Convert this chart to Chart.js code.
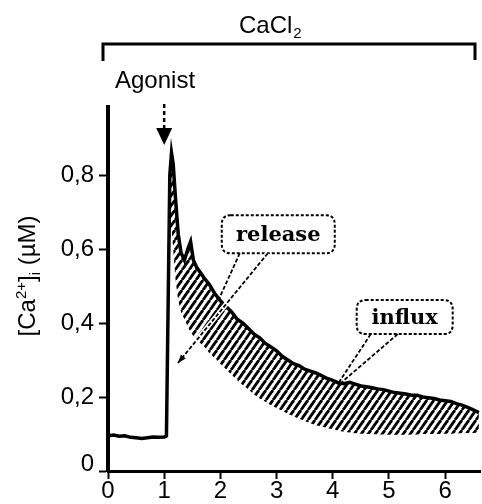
<!DOCTYPE html>
<html>
<head>
<meta charset="utf-8">
<script src="https://cdn.jsdelivr.net/npm/chart.js@4.4.1/dist/chart.umd.min.js"></script>
<style>
  html, body { margin: 0; padding: 0; background: #fff; }
  #wrap { width: 482px; height: 504px; }
</style>
</head>
<body>
<div id="wrap"><canvas id="chart" width="482" height="504"></canvas></div>
<script>
// time in min, [Ca2+]i in µM
const time = [0, 0.1, 0.2, 0.3, 0.4, 0.5, 0.6, 0.7, 0.8, 0.9, 1.0, 1.04,
	1.07, 1.1, 1.13, 1.16, 1.2, 1.25, 1.3, 1.36, 1.42, 1.47, 1.52, 1.58, 1.65, 1.72, 1.8,
	1.9, 2.0, 2.1, 2.2, 2.3, 2.4, 2.5, 2.6, 2.7, 2.8, 2.9, 3.0, 3.1, 3.2, 3.3, 3.4, 3.5,
	3.6, 3.7, 3.8, 3.9, 4.0, 4.1, 4.2, 4.3, 4.4, 4.5, 4.6, 4.7, 4.8, 4.9, 5.0, 5.1, 5.2,
	5.3, 5.4, 5.5, 5.6, 5.7, 5.8, 5.9, 6.0, 6.1, 6.2, 6.3, 6.4, 6.5, 6.6];

const signal = [0.095, 0.097, 0.094, 0.095, 0.091, 0.090, 0.088, 0.090, 0.092, 0.091, 0.092, 0.095,
	0.45, 0.80, 0.86, 0.83, 0.74, 0.64, 0.59, 0.57, 0.60, 0.62, 0.57, 0.55, 0.535, 0.52, 0.505,
	0.48, 0.46, 0.445, 0.43, 0.41, 0.40, 0.385, 0.37, 0.36, 0.345, 0.335, 0.325, 0.31, 0.30, 0.29, 0.285, 0.275,
	0.27, 0.265, 0.258, 0.25, 0.245, 0.238, 0.236, 0.24, 0.235, 0.23, 0.228, 0.225, 0.222, 0.22, 0.216, 0.212, 0.21,
	0.208, 0.205, 0.205, 0.20, 0.198, 0.196, 0.192, 0.19, 0.188, 0.182, 0.178, 0.172, 0.165, 0.158];

// lower edge of the hatched area (null before the agonist response)
const releaseFloor = [null, null, null, null, null, null, null, null, null, null, null, null,
	0.45, 0.62, 0.66, 0.60, 0.52, 0.46, 0.43, 0.41, 0.39, 0.375, 0.365, 0.355, 0.345, 0.335, 0.32,
	0.305, 0.29, 0.275, 0.26, 0.245, 0.232, 0.22, 0.207, 0.196, 0.187, 0.178, 0.17, 0.162, 0.155, 0.148, 0.141, 0.135,
	0.129, 0.124, 0.12, 0.116, 0.112, 0.109, 0.106, 0.104, 0.102, 0.101, 0.10, 0.10, 0.099, 0.099, 0.098, 0.098, 0.098,
	0.098, 0.099, 0.099, 0.10, 0.10, 0.10, 0.10, 0.101, 0.101, 0.102, 0.102, 0.103, 0.103, 0.104];

const xTicks = [0, 1, 2, 3, 4, 5, 6];
const yTicks = [0, 0.2, 0.4, 0.6, 0.8];

const FONT = "'Liberation Sans', Arial, sans-serif";

// diagonal hatch
function makeHatch() {
	const w = 7, h = 10;
	const c = document.createElement('canvas');
	c.width = w; c.height = h;
	const g = c.getContext('2d');
	g.strokeStyle = '#000';
	g.lineWidth = 2.8;
	for (let k = -1; k <= 1; k++) {
		g.beginPath();
		g.moveTo(k * w, h);
		g.lineTo(k * w + w, 0);
		g.stroke();
	}
	return document.getElementById('chart').getContext('2d').createPattern(c, 'repeat');
}

const signalPts = time.map((t, i) => ({ x: t, y: signal[i] }));
const hatchTop = time.map((t, i) => releaseFloor[i] == null ? null : { x: t, y: signal[i] }).filter(Boolean);
const hatchBottom = time.map((t, i) => releaseFloor[i] == null ? null : { x: t, y: releaseFloor[i] }).filter(Boolean);

function roundRect(ctx, x, y, w, h, r) {
	ctx.beginPath();
	ctx.moveTo(x + r, y);
	ctx.lineTo(x + w - r, y);
	ctx.quadraticCurveTo(x + w, y, x + w, y + r);
	ctx.lineTo(x + w, y + h - r);
	ctx.quadraticCurveTo(x + w, y + h, x + w - r, y + h);
	ctx.lineTo(x + r, y + h);
	ctx.quadraticCurveTo(x, y + h, x, y + h - r);
	ctx.lineTo(x, y + r);
	ctx.quadraticCurveTo(x, y, x + r, y);
	ctx.closePath();
}

const decorations = {
	id: 'decorations',
	afterDraw(chart) {
		const ctx = chart.ctx;
		const xs = chart.scales.x, ys = chart.scales.y;
		const P = (x, v) => [xs.getPixelForValue(x), ys.getPixelForValue(v)];
		ctx.save();
		ctx.fillStyle = '#000';
		ctx.strokeStyle = '#000';

		// "0" of the y axis sits a little above its tick
		ctx.font = '24px ' + FONT;
		ctx.textAlign = 'right';
		ctx.textBaseline = 'middle';
		ctx.fillText('0', ys.right - 14, ys.getPixelForValue(0) - 7);

		// CaCl2 bracket
		ctx.lineWidth = 3;
		ctx.beginPath();
		ctx.moveTo(103, 61); ctx.lineTo(103, 44); ctx.lineTo(475, 44); ctx.lineTo(475, 60);
		ctx.stroke();
		ctx.textBaseline = 'alphabetic';
		ctx.textAlign = 'left';
		ctx.font = '24px ' + FONT;
		ctx.fillText('CaCl', 239, 33);
		const cw = ctx.measureText('CaCl').width;
		ctx.font = '15px ' + FONT;
		ctx.fillText('2', 239 + cw + 1, 38);

		// Agonist
		ctx.font = '24px ' + FONT;
		ctx.fillText('Agonist', 115, 88);
		const ax = xs.getPixelForValue(1.0);
		ctx.lineWidth = 2.5;
		ctx.setLineDash([4, 3]);
		ctx.beginPath(); ctx.moveTo(ax, 104); ctx.lineTo(ax, 129); ctx.stroke();
		ctx.setLineDash([]);
		ctx.beginPath();
		ctx.moveTo(ax - 8, 128); ctx.lineTo(ax + 8, 128); ctx.lineTo(ax, 145); ctx.closePath();
		ctx.fill();

		// y axis title
		ctx.save();
		ctx.translate(35, 276);
		ctx.rotate(-Math.PI / 2);
		const parts = [['[Ca', 24, 0], ['2+', 15, -9], [']', 24, 0], ['i', 15, 5], [' (µM)', 24, 0]];
		let total = 0;
		parts.forEach(p => { ctx.font = p[1] + 'px ' + FONT; total += ctx.measureText(p[0]).width; });
		let cx = -total / 2;
		parts.forEach(p => {
			ctx.font = p[1] + 'px ' + FONT;
			ctx.fillText(p[0], cx, p[2]);
			cx += ctx.measureText(p[0]).width;
		});
		ctx.restore();

		// callouts
		function callout(label, cxv, cyv, w, h, tails) {
			const [bx, by] = P(cxv, cyv);
			const left = bx - w / 2, top = by - h / 2;
			ctx.fillStyle = '#fff';
			roundRect(ctx, left, top, w, h, 9);
			ctx.fill();
			ctx.fillStyle = '#000';
			ctx.lineWidth = 2;
			ctx.setLineDash([3, 2]);
			roundRect(ctx, left, top, w, h, 9);
			ctx.stroke();
			ctx.setLineDash([]);
			ctx.font = "bold 21px 'DejaVu Serif', serif";
			ctx.textAlign = 'center';
			ctx.textBaseline = 'middle';
			ctx.fillText(label, bx, by + 1);
			tails.forEach(t => {
				const sx = left + t.dx, sy = top + h;
				const [ex, ey] = P(t.x, t.v);
				if (t.halo) {
					ctx.strokeStyle = '#fff';
					ctx.lineWidth = 5;
					ctx.beginPath(); ctx.moveTo(sx, sy); ctx.lineTo(ex, ey); ctx.stroke();
					ctx.strokeStyle = '#000';
				}
				ctx.lineWidth = 1.8;
				ctx.setLineDash([4, 2]);
				ctx.beginPath(); ctx.moveTo(sx, sy); ctx.lineTo(ex, ey); ctx.stroke();
				ctx.setLineDash([]);
				if (t.arrow) {
					const a = Math.atan2(ey - sy, ex - sx);
					ctx.beginPath();
					ctx.moveTo(ex, ey);
					ctx.lineTo(ex - 9 * Math.cos(a - 0.35), ey - 9 * Math.sin(a - 0.35));
					ctx.lineTo(ex - 9 * Math.cos(a + 0.35), ey - 9 * Math.sin(a + 0.35));
					ctx.closePath();
					ctx.fill();
				}
			});
		}
		callout('release', 3.03, 0.64, 113, 38, [
			{ dx: 18, x: 1.975, v: 0.465 },
			{ dx: 46, x: 1.245, v: 0.292, halo: true, arrow: true }
		]);
		callout('influx', 5.28, 0.416, 96, 34, [
			{ dx: 14, x: 4.11, v: 0.24 },
			{ dx: 41, x: 4.16, v: 0.24 }
		]);
		ctx.restore();
	}
};

const chart = new Chart(document.getElementById('chart'), {
	type: 'line',
	data: {
		datasets: [
			{
				label: 'signal',
				data: signalPts,
				borderColor: '#000',
				borderWidth: 3.5,
				pointRadius: 0,
				tension: 0,
				fill: false,
			},
			{
				label: 'hatch',
				data: hatchTop,
				borderWidth: 0,
				borderColor: 'rgba(0,0,0,0)',
				pointRadius: 0,
				backgroundColor: makeHatch(),
				fill: 2,
			},
			{
				label: 'floor',
				data: hatchBottom,
				borderWidth: 0,
				borderColor: 'rgba(0,0,0,0)',
				pointRadius: 0,
				fill: false,
			},
		],
	},
	options: {
		responsive: false,
		animation: false,
		devicePixelRatio: 1,
		layout: { padding: { top: 107, right: 2, left: 0, bottom: 0 } },
		plugins: { legend: { display: false }, tooltip: { enabled: false } },
		scales: {
			x: {
				type: 'linear',
				min: 0,
				max: 6.62,
				afterFit: s => { s.height = 33; },
				afterBuildTicks: s => { s.ticks = xTicks.map(v => ({ value: v })); },
				ticks: { color: '#000', font: { family: FONT, size: 24 }, padding: -2, maxRotation: 0 },
				grid: { drawOnChartArea: false, tickLength: 8, tickWidth: 2, color: '#000' },
				border: { color: '#000', width: 3 },
			},
			y: {
				type: 'linear',
				min: 0,
				max: 0.984,
				afterFit: s => { s.width = 108; },
				afterBuildTicks: s => { s.ticks = yTicks.map(v => ({ value: v })); },
				ticks: {
					color: '#000',
					font: { family: FONT, size: 24 },
					padding: 5,
					callback: v => v === 0 ? '' : v.toFixed(1).replace('.', ','),
				},
				grid: { drawOnChartArea: false, tickLength: 9, tickWidth: 2, color: '#000' },
				border: { color: '#000', width: 4 },
			},
		},
	},
	plugins: [decorations],
});
</script>
</body>
</html>
